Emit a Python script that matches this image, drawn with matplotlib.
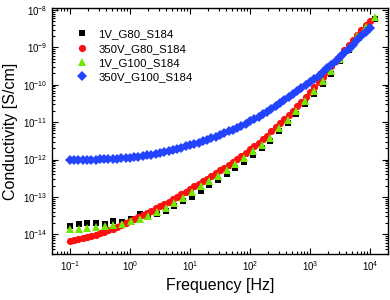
import numpy as np
import matplotlib
matplotlib.use('Agg')
import matplotlib.pyplot as plt
from matplotlib.ticker import NullFormatter, LogLocator

plt.rcParams['font.family'] = ['Liberation Sans', 'DejaVu Sans']

labels = ['1V_G80_S184', '350V_G80_S184', '1V_G100_S184', '350V_G100_S184']

# frequency sweeps (Hz)
freq_dense = np.logspace(-1, 4, 71)
freq_sparse = np.logspace(-1, 4.08, 36)

# log10 of conductivity [S/cm]
log_black = [-13.77, -13.73, -13.69, -13.70, -13.73, -13.65, -13.67, -13.58, -13.47, -13.55,
             -13.45, -13.38, -13.25, -13.12, -12.99, -12.83, -12.69, -12.55, -12.40, -12.23,
             -12.07, -11.89, -11.70, -11.51, -11.24, -11.01, -10.78, -10.52, -10.25, -9.97,
             -9.70, -9.37, -9.07, -8.75, -8.50, -8.25]
log_green = [-13.86, -13.85, -13.83, -13.80, -13.78, -13.76, -13.73, -13.65, -13.58, -13.50,
             -13.40, -13.30, -13.17, -13.03, -12.88, -12.71, -12.57, -12.43, -12.29, -12.12,
             -11.96, -11.78, -11.60, -11.42, -11.16, -10.93, -10.70, -10.44, -10.18, -9.91,
             -9.64, -9.31, -9.01, -8.70, -8.45, -8.20]
log_red = [-14.19, -14.16, -14.13, -14.10, -14.07, -14.04, -14.01, -13.97, -13.93, -13.89,
           -13.85, -13.80, -13.75, -13.70, -13.65, -13.60, -13.55, -13.49, -13.43, -13.37,
           -13.31, -13.25, -13.19, -13.13, -13.06, -13.00, -12.93, -12.86, -12.79, -12.72,
           -12.65, -12.58, -12.51, -12.44, -12.37, -12.29, -12.22, -12.14, -12.06, -11.98,
           -11.90, -11.82, -11.73, -11.64, -11.55, -11.46, -11.36, -11.24, -11.13, -11.02,
           -10.92, -10.81, -10.69, -10.57, -10.45, -10.32, -10.19, -10.06, -9.93, -9.79,
           -9.65, -9.51, -9.37, -9.22, -9.08, -8.94, -8.80, -8.66, -8.53, -8.41, -8.29]
log_blue = [-12.00, -12.00, -12.00, -12.00, -12.00, -12.00, -12.00, -11.99, -11.99, -11.99,
            -11.98, -11.98, -11.97, -11.96, -11.95, -11.94, -11.92, -11.91, -11.89, -11.87,
            -11.85, -11.83, -11.80, -11.77, -11.74, -11.71, -11.68, -11.65, -11.62, -11.58,
            -11.55, -11.51, -11.47, -11.43, -11.39, -11.34, -11.30, -11.25, -11.20, -11.15,
            -11.10, -11.04, -10.98, -10.92, -10.86, -10.79, -10.72, -10.65, -10.58, -10.50,
            -10.42, -10.34, -10.26, -10.18, -10.10, -10.02, -9.94, -9.85, -9.76, -9.66,
            -9.56, -9.46, -9.36, -9.26, -9.16, -9.05, -8.93, -8.81, -8.70, -8.58, -8.47]

x_ticks = [1e-1, 1e0, 1e1, 1e2, 1e3, 1e4]
y_ticks = [1e-14, 1e-13, 1e-12, 1e-11, 1e-10, 1e-9, 1e-8]

fig = plt.figure(figsize=(3.9, 3.0), dpi=100)
ax = fig.add_axes([0.133, 0.153, 0.862, 0.820])

ax.plot(freq_sparse, 10 ** np.array(log_black), 's', color='black', ms=4.6, mew=0, label=labels[0])
ax.plot(freq_dense, 10 ** np.array(log_red), 'o', color='#ff1010', ms=5.2, mew=0, label=labels[1])
ax.plot(freq_sparse, 10 ** np.array(log_green), '^', color='#70e800', ms=5.6, mew=0, label=labels[2])
ax.plot(freq_dense, 10 ** np.array(log_blue), 'D', color='#2244ff', ms=4.8, mew=0, label=labels[3])

ax.set_xscale('log')
ax.set_yscale('log')
ax.set_xticks(x_ticks)
ax.set_yticks(y_ticks)
ax.xaxis.set_minor_locator(LogLocator(base=10, subs=np.arange(2, 10), numticks=20))
ax.yaxis.set_minor_locator(LogLocator(base=10, subs=np.arange(2, 10), numticks=20))
ax.xaxis.set_minor_formatter(NullFormatter())
ax.yaxis.set_minor_formatter(NullFormatter())
ax.set_xlim(10 ** -1.3, 10 ** 4.3)
ax.set_ylim(10 ** -14.53, 10 ** -7.95)

ax.tick_params(which='both', direction='in', top=True, right=True, labelsize=7, width=0.8)
ax.tick_params(which='major', length=4)
ax.tick_params(which='minor', length=2)
for sp in ax.spines.values():
    sp.set_linewidth(1.0)

ax.set_xlabel('Frequency [Hz]', fontsize=11.5, labelpad=4)
ax.set_ylabel('Conductivity [S/cm]', fontsize=11.5, labelpad=3)

ax.legend(loc='upper left', bbox_to_anchor=(0.04, 0.955), frameon=False, fontsize=8.2,
          handletextpad=0.8, labelspacing=0.38, handlelength=1.2)

fig.savefig('out.png', dpi=100)
